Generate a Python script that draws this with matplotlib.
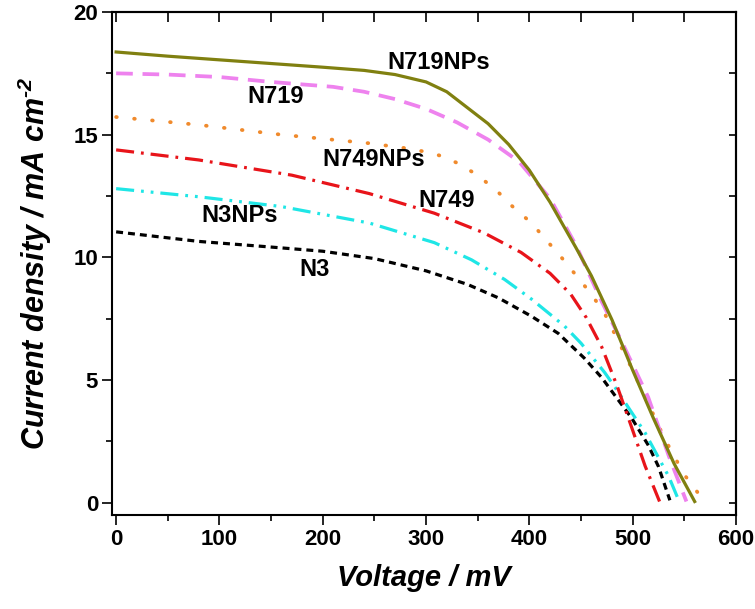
import matplotlib
matplotlib.use("Agg")
import matplotlib.pyplot as plt
from matplotlib.ticker import MultipleLocator

plt.rcParams['font.family'] = ['Liberation Sans', 'DejaVu Sans']
plt.rcParams['font.weight'] = 'bold'
plt.rcParams['mathtext.fontset'] = 'custom'
plt.rcParams['mathtext.it'] = 'Liberation Sans:italic:bold'
plt.rcParams['mathtext.rm'] = 'Liberation Sans:italic:bold'
plt.rcParams['mathtext.default'] = 'it'
plt.rcParams['lines.scale_dashes'] = False

# J-V curves (voltage in mV, current density in mA cm^-2)
v_n719nps = [0, 50, 100, 150, 200, 240, 270, 300, 320, 340, 360, 380, 400, 420, 445,
             460, 480, 500, 520, 540, 560]
j_n719nps = [18.37, 18.2, 18.05, 17.9, 17.75, 17.62, 17.45, 17.15, 16.75, 16.1, 15.45,
             14.6, 13.55, 12.25, 10.4, 9.25, 7.45, 5.4, 3.45, 1.6, 0.05]

v_n719 = [0, 50, 100, 150, 210, 240, 270, 300, 330, 360, 390, 420, 445, 470, 489, 515, 535, 552]
j_n719 = [17.5, 17.45, 17.35, 17.15, 16.95, 16.75, 16.45, 16.05, 15.5, 14.8, 13.9, 12.4,
          10.5, 8.2, 6.6, 4.3, 1.9, 0.05]

v_n749nps = [0, 80, 160, 245, 280, 300, 315, 330, 350, 370, 383, 402, 433, 460, 473, 500,
             531, 550, 565]
j_n749nps = [15.72, 15.4, 15.0, 14.65, 14.45, 14.3, 14.13, 13.85, 13.35, 12.65, 12.1, 11.4,
             9.9, 8.5, 7.7, 5.4, 2.6, 1.14, 0.3]

v_n749 = [0, 80, 170, 245, 308, 356, 392, 420, 440, 455, 470, 485, 500, 512, 526]
j_n749 = [14.38, 13.97, 13.35, 12.6, 11.8, 11.0, 10.2, 9.35, 8.5, 7.55, 6.35, 4.75, 2.95,
          1.5, 0.05]

v_n3nps = [0, 80, 160, 245, 308, 344, 376, 402, 434, 450, 473, 483, 512, 535, 545]
j_n3nps = [12.8, 12.47, 12.07, 11.4, 10.6, 9.9, 9.1, 8.3, 7.2, 6.5, 5.3, 4.7, 2.85, 1.06, 0.05]

v_n3 = [0, 80, 150, 200, 250, 300, 340, 370, 402, 428, 453, 470, 499, 515, 525, 536]
j_n3 = [11.04, 10.65, 10.42, 10.25, 9.95, 9.45, 8.9, 8.35, 7.6, 6.9, 5.9, 5.1, 3.45, 2.35,
        1.47, 0.1]

labels = ['N719NPs', 'N719', 'N749NPs', 'N749', 'N3NPs', 'N3']
label_pos = [(312, 17.95), (154, 16.55), (249, 14.0), (320, 12.3), (120, 11.7), (192, 9.5)]

fig = plt.figure(figsize=(7.55, 6.09), dpi=100)
ax = fig.add_axes([112 / 755, 1 - 515 / 609, 624 / 755, 503 / 609])

lw = 2.3
ax.plot(v_n3, j_n3, color='black', lw=lw, dashes=(5, 3.6))
ax.plot(v_n3nps, j_n3nps, color='#1fe6e6', lw=lw, dashes=(13, 5, 2, 5, 2, 5))
ax.plot(v_n749, j_n749, color='#e8141a', lw=lw, dashes=(13, 5, 2, 5))
ax.plot(v_n749nps, j_n749nps, color='#f08a2c', lw=lw + 0.4, dashes=(0.5, 12.5),
        dash_capstyle='round')
ax.plot(v_n719, j_n719, color='#ee82ee', lw=lw + 0.4, dashes=(12, 7))
ax.plot(v_n719nps, j_n719nps, color='#808010', lw=lw)

for text, (x, y) in zip(labels, label_pos):
    ax.text(x, y, text, fontsize=17, fontweight='bold', ha='center', va='center')

ax.set_xlim(-4, 600)
ax.set_ylim(-0.5, 20)

ax.xaxis.set_major_locator(MultipleLocator(100))
ax.xaxis.set_minor_locator(MultipleLocator(50))
ax.yaxis.set_major_locator(MultipleLocator(5))
ax.yaxis.set_minor_locator(MultipleLocator(2.5))
ax.tick_params(which='both', direction='out', width=1.2, labelsize=16, pad=3)
ax.tick_params(which='major', length=7)
ax.tick_params(which='minor', length=4.5)
for lab in ax.get_xticklabels() + ax.get_yticklabels():
    lab.set_fontweight('bold')
for sp in ax.spines.values():
    sp.set_linewidth(1.5)

# inward ticks on the top and right frame
top = ax.secondary_xaxis('top')
top.xaxis.set_major_locator(MultipleLocator(50))
top.tick_params(direction='in', length=7, width=1.2, labeltop=False)
top.spines['top'].set_linewidth(1.5)
right = ax.secondary_yaxis('right')
right.yaxis.set_major_locator(MultipleLocator(2.5))
right.tick_params(direction='in', length=5, width=1.2, labelright=False)
right.spines['right'].set_linewidth(1.5)

ax.set_xlabel('Voltage / mV', fontsize=21, fontweight='bold', fontstyle='italic', labelpad=10)
ax.set_ylabel(r'Current density / mA cm$^{\text{-2}}$', fontsize=22, fontweight='bold',
              fontstyle='italic', labelpad=14)

fig.savefig('out.png', dpi=100)
